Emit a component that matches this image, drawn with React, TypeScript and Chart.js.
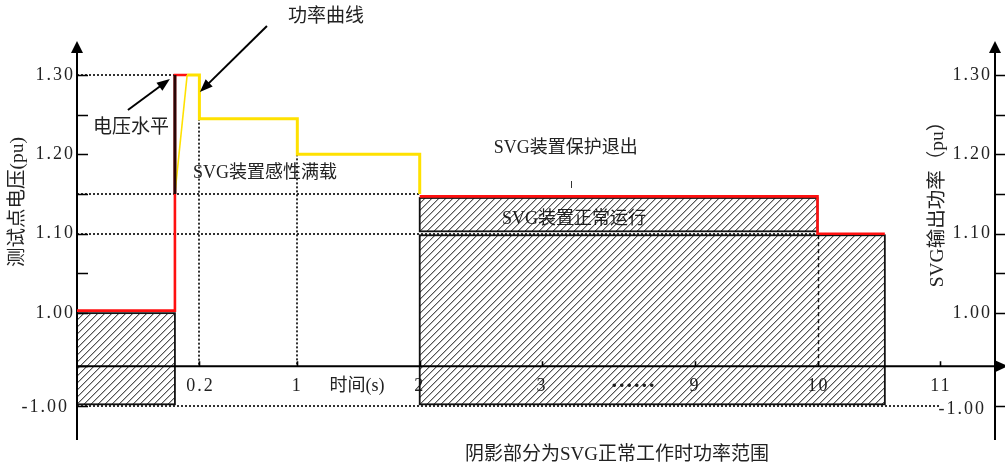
import React, { useEffect, useRef } from "react";
import { Chart, registerables } from "chart.js";

Chart.register(...registerables);

// ---- data (time in s, values in pu) ----
// Test-point voltage; a null value breaks the trace.
const voltageTime = [-0.8, 0, 0, 0.1, 0.1, 2, 10, 10, 10.55];
const voltageValue = [1.003, 1.003, 1.3, 1.3, null, 1.147, 1.147, 1.1, 1.1];

// SVG output power while the device carries its inductive full load.
const powerTime = [0, 0.1, 0.2, 0.2, 1, 1, 2, 2];
const powerValue = [1.15, 1.3, 1.3, 1.245, 1.245, 1.2, 1.2, 1.15];

// Switching instant marker.
const switchTime = [0, 0];
const switchValue = [1.15, 1.3];

// Normal operating power ranges (hatched).
const rangeFrom = [-0.8, 2, 2];
const rangeTo = [0, 10, 10.55];
const rangeLow = [-0.96, 1.103, -0.96];
const rangeHigh = [0.998, 1.145, 1.098];

// Axis ticks.
const timeTicks = [0.2, 1, 2, 3, 9, 10, 11];
const timeTickLabels = ["0.2", "1", "2", "3", "9", "10", "11"];
const puTicks = [1.3, 1.2, 1.1, 1.0, -1.0];
const puTickLabels = ["1.30", "1.20", "1.10", "1.00", "-1.00"];
const puMinorTicks = [1.25, 1.15, 1.05];

// Dotted reference lines: [value, from time, to time]
const hGuides = [
  [1.3, -0.8, 0],
  [1.15, -0.8, 2],
  [1.1, -0.8, 10],
  [-1.0, -0.8, 11],
];
// Vertical reference lines: [time, from value, to value]
const vGuides = [
  [0.2, 1.245, 0],
  [1, 1.2, 0],
];

// ---- broken axes ----
// time axis: 3 s .. 9 s squeezed into 1.25 units
const BREAK_T0 = 3;
const BREAK_T1 = 9;
const BREAK_LEN = 1.25;
function axisX(t: number): number {
  if (t <= BREAK_T0) return t;
  if (t >= BREAK_T1) return t - (BREAK_T1 - BREAK_T0) + BREAK_LEN;
  return BREAK_T0 + ((t - BREAK_T0) / (BREAK_T1 - BREAK_T0)) * BREAK_LEN;
}
// pu axis: values below 1.00 compressed, 0 = time axis, -1.00 below it
const Y_ZERO = 0.933;
const Y_MINUS_ONE = 0.883;
function axisY(v: number): number {
  if (v >= 1) return v;
  if (v >= 0) return Y_ZERO + v * (1 - Y_ZERO);
  return Y_ZERO + v * (Y_ZERO - Y_MINUS_ONE);
}

const X_MIN = -0.8;
const X_MAX = 6.7;
const Y_MIN = 0.84;
const Y_MAX = 1.3416;

const FONT = "'Liberation Serif', 'Noto Sans CJK SC', serif";
const CJK = "'Liberation Serif', 'Noto Sans CJK SC', sans-serif";

function toPoints(ts: number[], vs: (number | null)[]) {
  return ts.map((t, i) => ({ x: axisX(t), y: vs[i] === null ? null : axisY(vs[i] as number) }));
}

function arrowHead(ctx: CanvasRenderingContext2D, x0: number, y0: number, x1: number, y1: number, len: number, half: number) {
  const a = Math.atan2(y1 - y0, x1 - x0);
  const bx = x1 - len * Math.cos(a);
  const by = y1 - len * Math.sin(a);
  ctx.beginPath();
  ctx.moveTo(x1, y1);
  ctx.lineTo(bx + half * Math.sin(a), by - half * Math.cos(a));
  ctx.lineTo(bx - half * Math.sin(a), by + half * Math.cos(a));
  ctx.closePath();
  ctx.fill();
}

function arrowLine(ctx: CanvasRenderingContext2D, x0: number, y0: number, x1: number, y1: number) {
  const a = Math.atan2(y1 - y0, x1 - x0);
  ctx.beginPath();
  ctx.moveTo(x0, y0);
  ctx.lineTo(x1 - 8 * Math.cos(a), y1 - 8 * Math.sin(a));
  ctx.lineWidth = 2;
  ctx.stroke();
  arrowHead(ctx, x0, y0, x1, y1, 13, 5);
}

function hatchRect(ctx: CanvasRenderingContext2D, x0: number, y0: number, x1: number, y1: number) {
  const gap = 7;
  const h = y1 - y0;
  ctx.save();
  ctx.beginPath();
  ctx.rect(x0, y0, x1 - x0, h);
  ctx.clip();
  ctx.beginPath();
  const start = Math.floor((x0 - h) / gap) * gap;
  for (let k = start; k <= x1; k += gap) {
    ctx.moveTo(k, y1);
    ctx.lineTo(k + h, y0);
  }
  ctx.lineWidth = 1;
  ctx.strokeStyle = "#111";
  ctx.stroke();
  ctx.restore();
  ctx.lineWidth = 1.8;
  ctx.strokeStyle = "#111";
  ctx.strokeRect(x0, y0, x1 - x0, h);
}

function text(ctx: CanvasRenderingContext2D, s: string, x: number, y: number, font: string, align: CanvasTextAlign = "center", spacing = "0px") {
  ctx.font = font;
  ctx.textAlign = align;
  ctx.textBaseline = "middle";
  (ctx as any).letterSpacing = spacing;
  ctx.fillStyle = "#222";
  ctx.fillText(s, x, y);
  (ctx as any).letterSpacing = "0px";
}

const schematic = {
  id: "schematic",
  beforeDatasetsDraw(chart: Chart) {
    const ctx = chart.ctx;
    const xs = chart.scales.x;
    const ys = chart.scales.y;
    const PX = (u: number) => xs.getPixelForValue(u);
    const PY = (d: number) => ys.getPixelForValue(d);
    const X = (t: number) => PX(axisX(t));
    const Y = (v: number) => PY(axisY(v));
    const left = chart.chartArea.left;
    const right = chart.chartArea.right;
    const top = chart.chartArea.top;
    const bottom = chart.chartArea.bottom;
    const y0 = Y(0);
    ctx.save();

    // time tick labels (under the hatching)
    const tickFont = `18px ${FONT}`;
    timeTicks.forEach((t, i) => {
      text(ctx, timeTickLabels[i], X(t) + (timeTickLabels[i].length > 1 ? 1 : 0), PY(0.908), tickFont, "center", "2px");
    });
    text(ctx, "时间(s)", PX(1.487), PY(0.908), `18px ${CJK}`);
    text(ctx, "......", PX(3.75), PY(0.914), `bold 22px ${FONT}`, "center", "2px");
    text(ctx, "SVG装置正常运行", PX(3.26), PY(1.1185), `18px ${CJK}`);

    // dotted reference lines
    ctx.strokeStyle = "#000";
    ctx.lineWidth = 1.6;
    ctx.setLineDash([2, 2]);
    hGuides.forEach(([v, a, b]) => {
      ctx.beginPath();
      ctx.moveTo(X(a), Math.round(Y(v)));
      ctx.lineTo(X(b), Math.round(Y(v)));
      ctx.stroke();
    });
    vGuides.forEach(([t, a, b]) => {
      ctx.beginPath();
      ctx.moveTo(Math.round(X(t)), Y(a));
      ctx.lineTo(Math.round(X(t)), Y(b));
      ctx.stroke();
    });
    ctx.setLineDash([]);

    // hatched normal operating ranges
    rangeFrom.forEach((t, i) => {
      hatchRect(ctx, X(t), Y(rangeHigh[i]), X(rangeTo[i]), Y(rangeLow[i]));
    });

    // dashed line at 10 s inside the range
    ctx.setLineDash([4, 3]);
    ctx.lineWidth = 1.3;
    ctx.strokeStyle = "#111";
    ctx.beginPath();
    ctx.moveTo(Math.round(X(10)) + 0.5, Y(rangeHigh[2]));
    ctx.lineTo(Math.round(X(10)) + 0.5, y0);
    ctx.stroke();
    ctx.setLineDash([]);

    // axes
    ctx.strokeStyle = "#000";
    ctx.fillStyle = "#000";
    ctx.lineWidth = 2;
    ctx.beginPath();
    ctx.moveTo(left, bottom);
    ctx.lineTo(left, top + 8);
    ctx.moveTo(right, bottom);
    ctx.lineTo(right, top + 8);
    ctx.moveTo(left, y0);
    ctx.lineTo(right + 4, y0);
    ctx.stroke();
    arrowHead(ctx, left, bottom, left, top - 1, 12, 6);
    arrowHead(ctx, right, bottom, right, top - 1, 12, 6);
    arrowHead(ctx, left, y0, right + 13, y0, 12, 5.5);

    // pu ticks: inward on the left, outward on the right
    ctx.lineWidth = 1.6;
    const allTicks = [...puTicks, ...puMinorTicks, 0];
    ctx.beginPath();
    allTicks.forEach((v) => {
      const y = Math.round(Y(v)) + 0.5;
      ctx.moveTo(left, y);
      ctx.lineTo(left + 11, y);
      if (v !== 0) {
        ctx.moveTo(right, y);
        ctx.lineTo(right + 11, y);
      }
    });
    // small time ticks pointing up
    timeTicks.forEach((t) => {
      const x = Math.round(X(t)) + 0.5;
      ctx.moveTo(x, y0);
      ctx.lineTo(x, y0 - 5);
    });
    ctx.stroke();

    // pu tick labels
    puTicks.forEach((v, i) => {
      const isNeg = v < 0;
      text(ctx, puTickLabels[i], isNeg ? left - 8 : left - 2, Y(v) + (isNeg ? 1 : 0), tickFont, "right", "2px");
      text(ctx, puTickLabels[i], isNeg ? right - 9 : right - 3, Y(v) + (isNeg ? 3 : 0), tickFont, "right", "2px");
    });

    // axis titles
    ctx.save();
    ctx.translate(PX(-1.283), PY(1.14));
    ctx.rotate(-Math.PI / 2);
    text(ctx, "测试点电压(pu)", 0, 0, `19.5px ${CJK}`);
    ctx.restore();
    ctx.save();
    ctx.translate(PX(6.234), PY(1.143));
    ctx.rotate(-Math.PI / 2);
    text(ctx, "SVG输出功率（pu）", 0, 0, `19.5px ${CJK}`);
    ctx.restore();

    ctx.restore();
  },
  afterDatasetsDraw(chart: Chart) {
    const ctx = chart.ctx;
    const xs = chart.scales.x;
    const ys = chart.scales.y;
    const PX = (u: number) => xs.getPixelForValue(u);
    const PY = (d: number) => ys.getPixelForValue(d);
    ctx.save();

    text(ctx, "功率曲线", PX(1.234), PY(1.373), `19px ${CJK}`);
    ctx.strokeStyle = "#000";
    ctx.fillStyle = "#000";
    arrowLine(ctx, PX(0.752), PY(1.3617), PX(0.204), PY(1.2786));

    text(ctx, "电压水平", PX(-0.359), PY(1.2332), `19px ${CJK}`);
    ctx.strokeStyle = "#000";
    ctx.fillStyle = "#000";
    arrowLine(ctx, PX(-0.384), PY(1.2559), PX(-0.041), PY(1.2949));

    text(ctx, "SVG装置感性满载", PX(0.735), PY(1.1765), `18px ${CJK}`);
    text(ctx, "SVG装置保护退出", PX(3.194), PY(1.208), `18px ${CJK}`);

    ctx.strokeStyle = "#333";
    ctx.lineWidth = 1;
    ctx.beginPath();
    ctx.moveTo(Math.round(PX(3.235)) + 0.5, PY(1.1664));
    ctx.lineTo(Math.round(PX(3.235)) + 0.5, PY(1.1576));
    ctx.stroke();

    text(ctx, "阴影部分为SVG正常工作时功率范围", PX(3.611), PY(0.8211), `19px ${CJK}`);
    ctx.restore();
  },
};

export default function App() {
  const ref = useRef<HTMLCanvasElement | null>(null);

  useEffect(() => {
    if (!ref.current) return;
    const chart = new Chart(ref.current, {
      type: "line",
      data: {
        datasets: [
          {
            label: "切换",
            data: toPoints(switchTime, switchValue) as any,
            borderColor: "#2a0505",
            borderWidth: 3,
            pointRadius: 0,
            fill: false,
            order: 0,
          },
          {
            label: "SVG输出功率",
            data: toPoints(powerTime, powerValue) as any,
            borderColor: "#ffe100",
            borderWidth: 3,
            pointRadius: 0,
            tension: 0,
            fill: false,
            order: 1,
            segment: {
              borderWidth: (c: any) => (c.p0DataIndex === 0 ? 1.6 : 3),
            },
          },
          {
            label: "测试点电压",
            data: toPoints(voltageTime, voltageValue) as any,
            borderColor: "#ff1010",
            borderWidth: 2.6,
            pointRadius: 0,
            tension: 0,
            spanGaps: false,
            fill: false,
            order: 2,
          },
        ],
      },
      options: {
        responsive: false,
        animation: false,
        devicePixelRatio: 1,
        clip: false as any,
        layout: { padding: { left: 77, right: 10, top: 42, bottom: 29 } },
        plugins: { legend: { display: false }, tooltip: { enabled: false } },
        events: [],
        scales: {
          x: { type: "linear", min: X_MIN, max: X_MAX, display: false },
          y: { type: "linear", min: Y_MIN, max: Y_MAX, display: false },
        },
      },
      plugins: [schematic as any],
    });
    return () => chart.destroy();
  }, []);

  return (
    <div style={{ position: "absolute", left: 0, top: 0, width: 1005, height: 469, background: "#fff" }}>
      <canvas ref={ref} width={1005} height={469} style={{ display: "block" }} />
    </div>
  );
}
